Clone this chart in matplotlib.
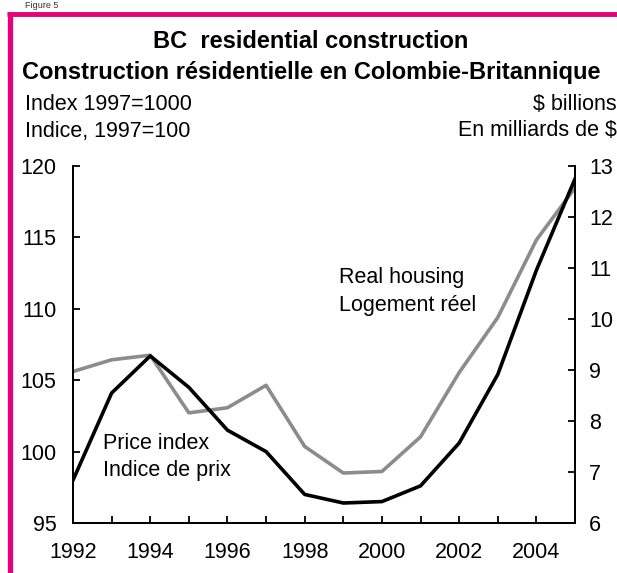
import matplotlib
matplotlib.use('Agg')
import matplotlib.pyplot as plt
from matplotlib.lines import Line2D

plt.rcParams['font.family'] = ['Liberation Sans', 'DejaVu Sans']

# datos
years = [1992, 1993, 1994, 1995, 1996, 1997, 1998, 1999, 2000, 2001, 2002, 2003, 2004, 2005]
price_index = [98.0, 104.1, 106.7, 104.5, 101.5, 100.0, 97.0, 96.4, 96.5, 97.6, 100.6, 105.4, 112.7, 119.1]
real_housing = [8.97, 9.2, 9.29, 8.16, 8.26, 8.7, 7.5, 6.98, 7.01, 7.69, 8.95, 10.03, 11.55, 12.57]

left_ticks = [95, 100, 105, 110, 115, 120]
right_ticks = [6, 7, 8, 9, 10, 11, 12, 13]

W, H = 617, 573
fig = plt.figure(figsize=(W / 100, H / 100), dpi=100)

pink = '#E6007E'
fs_title = 17
fs = 15.5

# marco rosa
fig.add_artist(Line2D([9.5 / W, 9.5 / W], [0, 1 - 12 / H], color=pink, lw=3.8,
                      transform=fig.transFigure, solid_capstyle='butt'))
fig.add_artist(Line2D([7 / W, 1], [1 - 14 / H, 1 - 14 / H], color=pink, lw=3.5,
                      transform=fig.transFigure, solid_capstyle='butt'))
fig.text(25 / W, 1 - 1 / H, 'Figure 5', fontsize=6.5, va='top', ha='left', color='#333333')

# títulos
fig.text(311 / W, 1 - 42 / H, 'BC  residential construction', fontsize=fs_title, fontweight='bold',
         ha='center', va='center')
fig.text(311 / W, 1 - 73 / H, 'Construction résidentielle en Colombie-Britannique', fontsize=fs_title,
         fontweight='bold', ha='center', va='center')
fig.text(25 / W, 1 - 104 / H, 'Index 1997=1000', fontsize=fs, ha='left', va='center')
fig.text(25 / W, 1 - 131 / H, 'Indice, 1997=100', fontsize=fs, ha='left', va='center')
fig.text(617 / W, 1 - 104 / H, '$ billions', fontsize=fs, ha='right', va='center')
fig.text(617 / W, 1 - 131 / H, 'En milliards de $', fontsize=fs, ha='right', va='center')

ax = fig.add_axes([73 / W, 1 - 523 / H, (575 - 73) / W, (523 - 166) / H])
ax2 = ax.twinx()

ax.plot(years, price_index, color='black', lw=2.6, zorder=3)
ax2.plot(years, real_housing, color='#8c8c8c', lw=2.6, zorder=2)
ax.set_zorder(ax2.get_zorder() + 1)
ax.patch.set_visible(False)

ax.set_xlim(1992, 2005)
ax.set_ylim(95, 120)
ax2.set_ylim(6, 13)

ax.set_xticks(years)
ax.set_xticklabels([str(y) if y % 2 == 0 else '' for y in years])
ax.set_yticks(left_ticks)
ax2.set_yticks(right_ticks)

for a in (ax, ax2):
    a.spines['top'].set_visible(False)
    for s in a.spines.values():
        s.set_linewidth(1.3)
    a.tick_params(direction='in', length=5, width=1.3, labelsize=fs)
ax.tick_params(axis='y', pad=12)
ax.tick_params(axis='x', pad=14)
ax2.tick_params(axis='y', pad=10)

ax.text(1992.78, 100.6, 'Price index', fontsize=fs, va='center')
ax.text(1992.78, 98.65, 'Indice de prix', fontsize=fs, va='center')
ax.text(1998.9, 112.2, 'Real housing', fontsize=fs, va='center')
ax.text(1998.9, 110.2, 'Logement réel', fontsize=fs, va='center')

fig.savefig('out.png', dpi=100)
